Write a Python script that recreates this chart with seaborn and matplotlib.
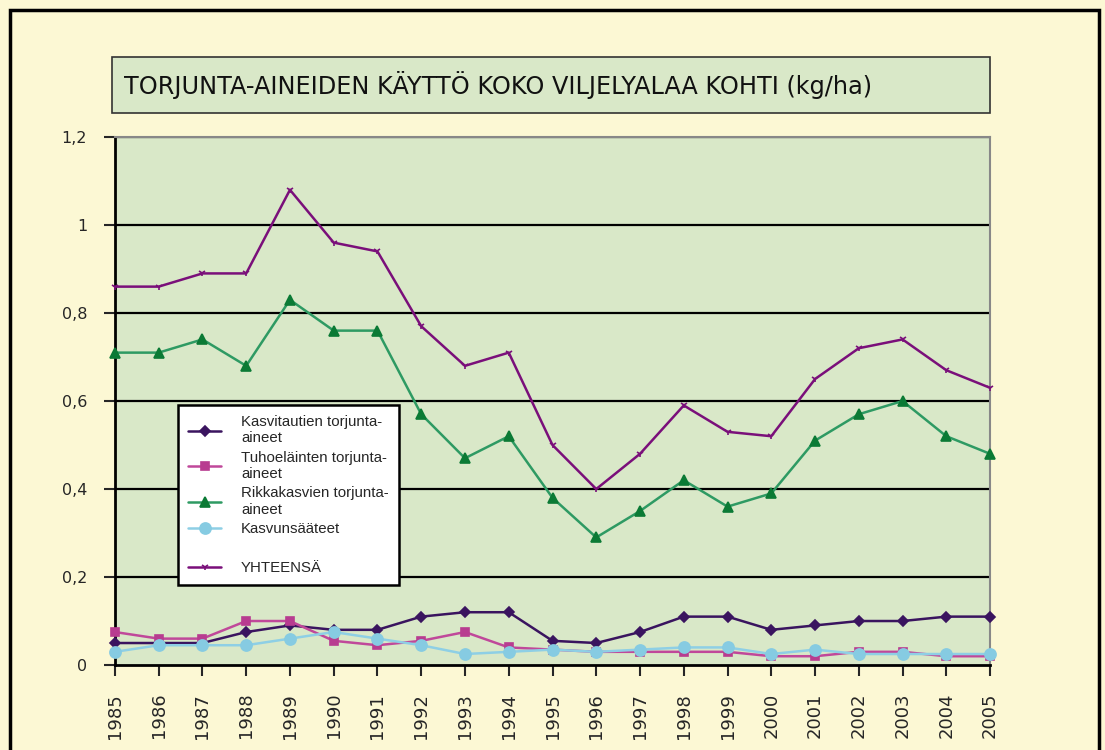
import numpy as np
import matplotlib
matplotlib.use('Agg')
import matplotlib.pyplot as plt
from matplotlib.patches import Rectangle
from matplotlib.lines import Line2D
from matplotlib.ticker import FuncFormatter
import seaborn as sns
import pandas as pd

sns.set_style('white')
plt.rcParams['font.family'] = ['DejaVu Sans']

# data
years = list(range(1985, 2006))
kasvitautien = [0.05, 0.05, 0.05, 0.075, 0.09, 0.08, 0.08, 0.11, 0.12, 0.12, 0.055,
                0.05, 0.075, 0.11, 0.11, 0.08, 0.09, 0.10, 0.10, 0.11, 0.11]
tuhoelainten = [0.075, 0.06, 0.06, 0.10, 0.10, 0.055, 0.045, 0.055, 0.075, 0.04, 0.035,
                0.03, 0.03, 0.03, 0.03, 0.02, 0.02, 0.03, 0.03, 0.02, 0.02]
rikkakasvien = [0.71, 0.71, 0.74, 0.68, 0.83, 0.76, 0.76, 0.57, 0.47, 0.52, 0.38,
                0.29, 0.35, 0.42, 0.36, 0.39, 0.51, 0.57, 0.60, 0.52, 0.48]
kasvunsaateet = [0.03, 0.045, 0.045, 0.045, 0.06, 0.075, 0.06, 0.045, 0.025, 0.03, 0.035,
                 0.03, 0.035, 0.04, 0.04, 0.025, 0.035, 0.025, 0.025, 0.025, 0.025]
yhteensa = [0.86, 0.86, 0.89, 0.89, 1.08, 0.96, 0.94, 0.77, 0.68, 0.71, 0.50,
            0.40, 0.48, 0.59, 0.53, 0.52, 0.65, 0.72, 0.74, 0.67, 0.63]

labels = ['Kasvitautien torjunta-\naineet', 'Tuhoeläinten torjunta-\naineet',
          'Rikkakasvien torjunta-\naineet', 'Kasvunsääteet', 'YHTEENSÄ']

fig = plt.figure(figsize=(11.05, 7.5), dpi=100)
fig.patch.set_facecolor('#FCF8D4')

# outer frame
fig.add_artist(Rectangle((0.009, -0.01), 0.986, 0.997, transform=fig.transFigure,
                         fill=False, edgecolor='black', linewidth=2.5))

# title box
fig.add_artist(Rectangle((0.1018, 0.849), 0.794, 0.075, transform=fig.transFigure,
                         facecolor='#D9E8C8', edgecolor='#333333', linewidth=1.2))
fig.text(0.112, 0.887, 'TORJUNTA-AINEIDEN KÄYTTÖ KOKO VILJELYALAA KOHTI (kg/ha)',
         fontsize=17.3, va='center', ha='left', color='#111111')

ax = fig.add_axes([0.104, 0.1133, 0.792, 0.704])
ax.set_facecolor('#D9E8C8')

series = [
    (kasvitautien, '#3A145F', '#3A145F', 'D', 5.5),
    (tuhoelainten, '#C0489A', '#B83C90', 's', 5.5),
    (rikkakasvien, '#2E9A63', '#0B7A35', '^', 7),
    (kasvunsaateet, '#8ECFE5', '#86CBE2', 'o', 8),
    (yhteensa, '#7A0F7A', '#7A0F7A', '1', 5),
]

for (vals, lc, mc, mk, ms), lab in zip(series, labels):
    sns.lineplot(x=years, y=vals, ax=ax, color=lc, linewidth=1.8, marker=mk,
                 markersize=ms, markerfacecolor=mc, markeredgecolor=mc,
                 markeredgewidth=1.2, label=lab, clip_on=False, zorder=5)

ax.set_xlim(1985, 2005)
ax.set_ylim(0, 1.2)
ax.set_xticks(years)
ax.set_xticklabels([str(y) for y in years], rotation=90, fontsize=13)
ax.set_yticks(np.arange(0, 1.21, 0.2))
ax.yaxis.set_major_formatter(FuncFormatter(lambda v, p: ('%g' % round(v, 1)).replace('.', ',')))
ax.tick_params(axis='y', labelsize=11.5, length=8, width=1.5, direction='out', left=True, pad=12)
ax.tick_params(axis='x', length=8, width=1.5, direction='out', bottom=True, pad=12)

for y in np.arange(0.2, 1.21, 0.2):
    ax.axhline(y, color='black', linewidth=1.6, zorder=1)

ax.spines['left'].set_color('black')
ax.spines['left'].set_linewidth(2)
ax.spines['bottom'].set_color('black')
ax.spines['bottom'].set_linewidth(2)
ax.spines['right'].set_color('#888888')
ax.spines['right'].set_linewidth(1.5)
ax.spines['top'].set_color('#888888')
ax.spines['top'].set_linewidth(1.5)
ax.set_xlabel('')
ax.set_ylabel('')

# legend with a blank row before the total
handles, labs = ax.get_legend_handles_labels()
blank = Line2D([], [], linestyle='none', marker=None)
handles = handles[:4] + [blank] + handles[4:]
labs = labs[:4] + [''] + labs[4:]
leg = ax.legend(handles, labs, loc='upper left', bbox_to_anchor=(0.072, 0.493),
                borderaxespad=0, frameon=True, fancybox=False, edgecolor='black',
                facecolor='white', framealpha=1, handlelength=2.2, labelspacing=0.36,
                borderpad=0.7, handletextpad=1.3,
                prop={'family': 'Liberation Sans', 'size': 10.8})
leg.get_frame().set_linewidth(1.8)
leg.set_zorder(10)

fig.savefig('out.png', dpi=100, facecolor=fig.get_facecolor())
